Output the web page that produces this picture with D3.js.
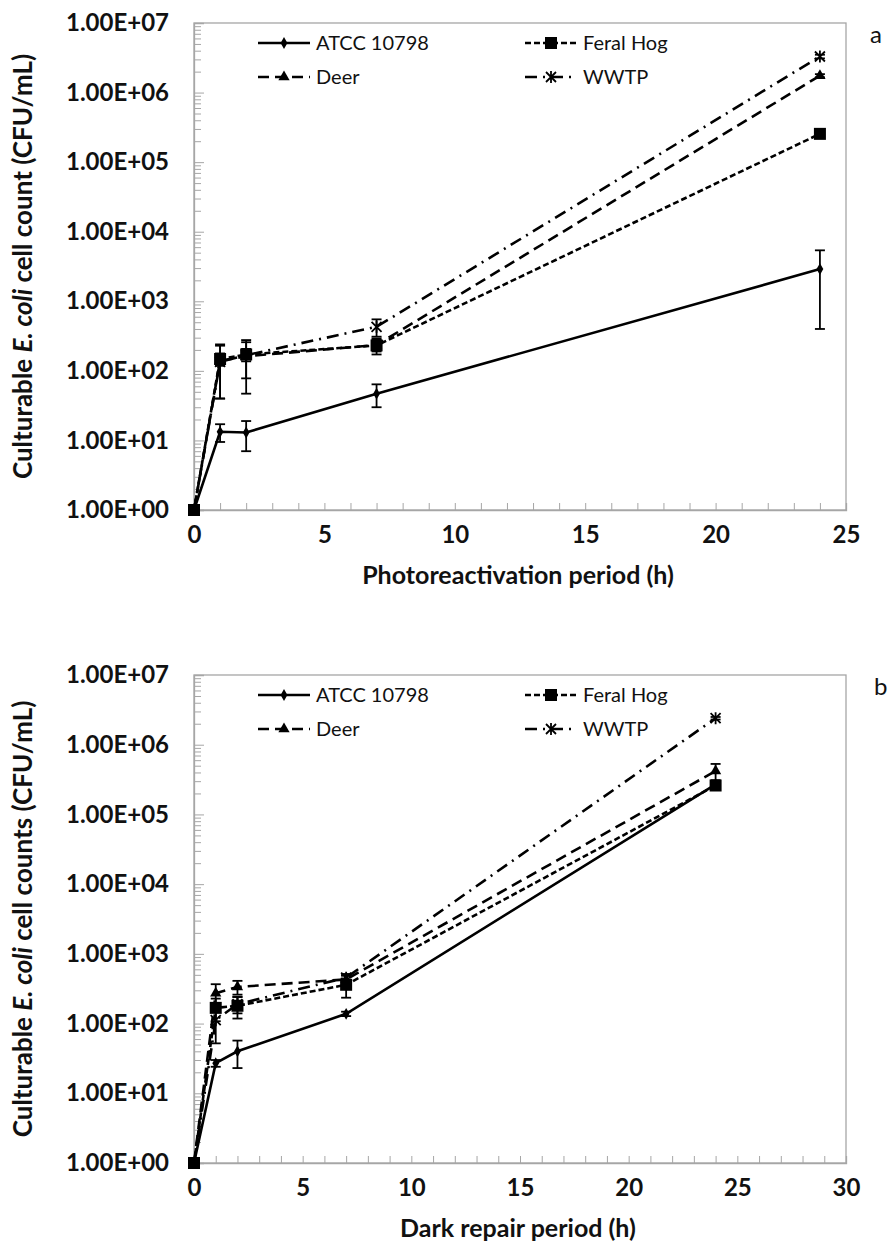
<!DOCTYPE html>
<html>
<head>
<meta charset="utf-8">
<script src="https://cdn.jsdelivr.net/npm/d3@7"></script>
<style>
  body { margin: 0; background: #fff; }
  svg { display: block; }
  text { font-family: Lato, "Open Sans", sans-serif; fill: #111; }
</style>
</head>
<body>
<svg id="chart" width="888" height="1252"></svg>
<script>
// sampling times (h)
var hours = [0, 1, 2, 7, 24];
var seriesNames = ["ATCC 10798", "Feral Hog", "Deer", "WWTP"];
var yTicks = [1, 10, 100, 1e3, 1e4, 1e5, 1e6, 1e7];
var xTicksA = [0, 5, 10, 15, 20, 25];
var xTicksB = [0, 5, 10, 15, 20, 25, 30];

// panel a - photoreactivation (CFU/mL, +/- error)
var atccA = [1, 13.3, 13, 47, 2900];
var atccErrA = [0, 3.8, 6, 17, 2500];
var hogA = [1, 148, 172, 232, 255000];
var hogErrA = [0, 30, 35, 60, 15000];
var deerA = [1, 140, 162, 235, 1750000];
var deerErrA = [0, 100, 115, 45, 90000];
var wwtpA = [1, 135, 168, 430, 3300000];
var wwtpErrA = [0, 95, 90, 120, 200000];

// panel b - dark repair
var atccB = [1, 27, 40, 138, 270000];
var atccErrB = [0, 3, 17, 10, 10000];
var hogB = [1, 168, 180, 360, 260000];
var hogErrB = [0, 60, 62, 125, 15000];
var deerB = [1, 272, 335, 430, 420000];
var deerErrB = [0, 95, 75, 65, 110000];
var wwtpB = [1, 112, 190, 455, 2400000];
var wwtpErrB = [0, 60, 50, 60, 100000];

var svg = d3.select("#chart");
var axisColor = "#a6a6a6";

// line + marker styles per series
var styles = [
  { dash: null, marker: "diamond" },
  { dash: "6,3", marker: "square" },
  { dash: "11,6", marker: "triangle" },
  { dash: "12,6,2,6", marker: "asterisk" }
];

function drawMarker(g, type, cx, cy) {
  if (type == "diamond") {
    g.append("path").attr("d", d3.symbol(d3.symbolDiamond, 40)())
      .attr("transform", "translate(" + cx + "," + cy + ")").attr("fill", "#000");
  } else if (type == "square") {
    g.append("rect").attr("x", cx - 6).attr("y", cy - 6).attr("width", 12).attr("height", 12).attr("fill", "#000");
  } else if (type == "triangle") {
    g.append("path").attr("d", d3.symbol(d3.symbolTriangle, 55)())
      .attr("transform", "translate(" + cx + "," + cy + ")").attr("fill", "#000");
  } else {
    var s = 5;
    g.append("path")
      .attr("d", "M" + (cx - s) + "," + (cy - s) + "L" + (cx + s) + "," + (cy + s) +
                 "M" + (cx - s) + "," + (cy + s) + "L" + (cx + s) + "," + (cy - s) +
                 "M" + cx + "," + (cy - s - 1) + "L" + cx + "," + (cy + s + 1))
      .attr("stroke", "#000").attr("stroke-width", 1.8).attr("fill", "none");
  }
}

function drawPanel(p) {
  var x = d3.scaleLinear().domain([0, p.xMax]).range([194, 846]);
  var y = d3.scaleLog().domain([1, 1e7]).range([p.bottom, p.top]);
  var g = svg.append("g");

  // plot border
  g.append("rect").attr("x", x(0)).attr("y", y(1e7))
    .attr("width", x(p.xMax) - x(0)).attr("height", y(1) - y(1e7))
    .attr("fill", "none").attr("stroke", axisColor).attr("stroke-width", 1.3);

  // y minor ticks
  var minor = [];
  for (var e = 0; e < 7; e++) for (var m = 2; m <= 9; m++) minor.push(m * Math.pow(10, e));
  g.append("g").attr("transform", "translate(" + x(0) + ",0)")
    .call(d3.axisLeft(y).tickValues(minor).tickSize(-7).tickFormat(""))
    .call(function(a) { a.select(".domain").remove(); a.selectAll("line").attr("stroke", axisColor); });

  // y major ticks
  var ya = g.append("g").attr("transform", "translate(" + x(0) + ",0)")
    .call(d3.axisLeft(y).tickValues(yTicks).tickSize(-10).tickPadding(25)
      .tickFormat(function(d) { var ex = Math.round(Math.log10(d)); return "1.00E+" + (ex < 10 ? "0" : "") + ex; }));
  ya.select(".domain").attr("stroke", axisColor).attr("stroke-width", 1.3);
  ya.selectAll("line").attr("stroke", axisColor);
  ya.selectAll("text").attr("font-size", 24).attr("font-weight", "bold")
    .attr("font-family", "Lato, sans-serif").attr("fill", "#111");

  // x ticks every hour, labels every 5
  var xa = g.append("g").attr("transform", "translate(0," + y(1) + ")")
    .call(d3.axisBottom(x).tickValues(d3.range(0, p.xMax + 1)).tickSize(-7).tickPadding(16)
      .tickFormat(function(d) { return p.xTicks.indexOf(d) >= 0 ? d : ""; }));
  xa.select(".domain").attr("stroke", axisColor).attr("stroke-width", 1.3);
  xa.selectAll("line").attr("stroke", axisColor);
  xa.selectAll("text").attr("font-size", 24).attr("font-weight", "bold")
    .attr("font-family", "Lato, sans-serif").attr("fill", "#111");

  // axis titles
  var yt = g.append("text")
    .attr("transform", "translate(32," + ((p.top + p.bottom) / 2) + ") rotate(-90)")
    .attr("text-anchor", "middle").attr("font-size", 26).attr("font-weight", "bold");
  yt.append("tspan").text("Culturable ");
  yt.append("tspan").attr("font-style", "italic").text("E. coli");
  yt.append("tspan").text(p.yTitle);

  g.append("text").attr("x", 518).attr("y", p.bottom + 74)
    .attr("text-anchor", "middle").attr("font-size", 25).attr("font-weight", "bold").text(p.xTitle);

  g.append("text").attr("x", p.letterX).attr("y", p.top + 20).attr("font-size", 24).text(p.letter);

  // series
  p.series.forEach(function(s, i) {
    var st = styles[i];
    var pts = hours.map(function(h, k) { return [x(h), y(s.v[k])]; });
    g.append("path").attr("d", d3.line()(pts)).attr("fill", "none")
      .attr("stroke", "#000").attr("stroke-width", 2.6)
      .attr("stroke-dasharray", st.dash);
    var eb = g.append("g").attr("stroke", "#000").attr("stroke-width", 1.8);
    hours.forEach(function(h, k) {
      if (!s.e[k]) return;
      var lo = Math.max(s.v[k] - s.e[k], 1), hi = s.v[k] + s.e[k];
      eb.append("line").attr("x1", x(h)).attr("x2", x(h)).attr("y1", y(lo)).attr("y2", y(hi));
      eb.append("line").attr("x1", x(h) - 5).attr("x2", x(h) + 5).attr("y1", y(lo)).attr("y2", y(lo));
      eb.append("line").attr("x1", x(h) - 5).attr("x2", x(h) + 5).attr("y1", y(hi)).attr("y2", y(hi));
    });
    var mg = g.append("g");
    hours.forEach(function(h, k) { drawMarker(mg, st.marker, x(h), y(s.v[k])); });
  });

  // legend
  var lx = [258, 525], ly = [p.top + 20, p.top + 54];
  seriesNames.forEach(function(name, i) {
    var cx = lx[i % 2], cy = ly[Math.floor(i / 2)];
    var st = styles[i];
    g.append("line").attr("x1", cx).attr("x2", cx + 52).attr("y1", cy).attr("y2", cy)
      .attr("stroke", "#000").attr("stroke-width", 2.6).attr("stroke-dasharray", st.dash);
    drawMarker(g, st.marker, cx + 26, cy);
    g.append("text").attr("x", cx + 58).attr("y", cy + 7).attr("font-size", 20).text(name);
  });
}

drawPanel({
  top: 23, bottom: 510, xMax: 25, xTicks: xTicksA,
  yTitle: " cell count (CFU/mL)", xTitle: "Photoreactivation period (h)",
  letter: "a", letterX: 870,
  series: [
    { v: atccA, e: atccErrA }, { v: hogA, e: hogErrA },
    { v: deerA, e: deerErrA }, { v: wwtpA, e: wwtpErrA }
  ]
});

drawPanel({
  top: 675, bottom: 1163, xMax: 30, xTicks: xTicksB,
  yTitle: " cell counts (CFU/mL)", xTitle: "Dark repair period (h)",
  letter: "b", letterX: 874,
  series: [
    { v: atccB, e: atccErrB }, { v: hogB, e: hogErrB },
    { v: deerB, e: deerErrB }, { v: wwtpB, e: wwtpErrB }
  ]
});
</script>
</body>
</html>
